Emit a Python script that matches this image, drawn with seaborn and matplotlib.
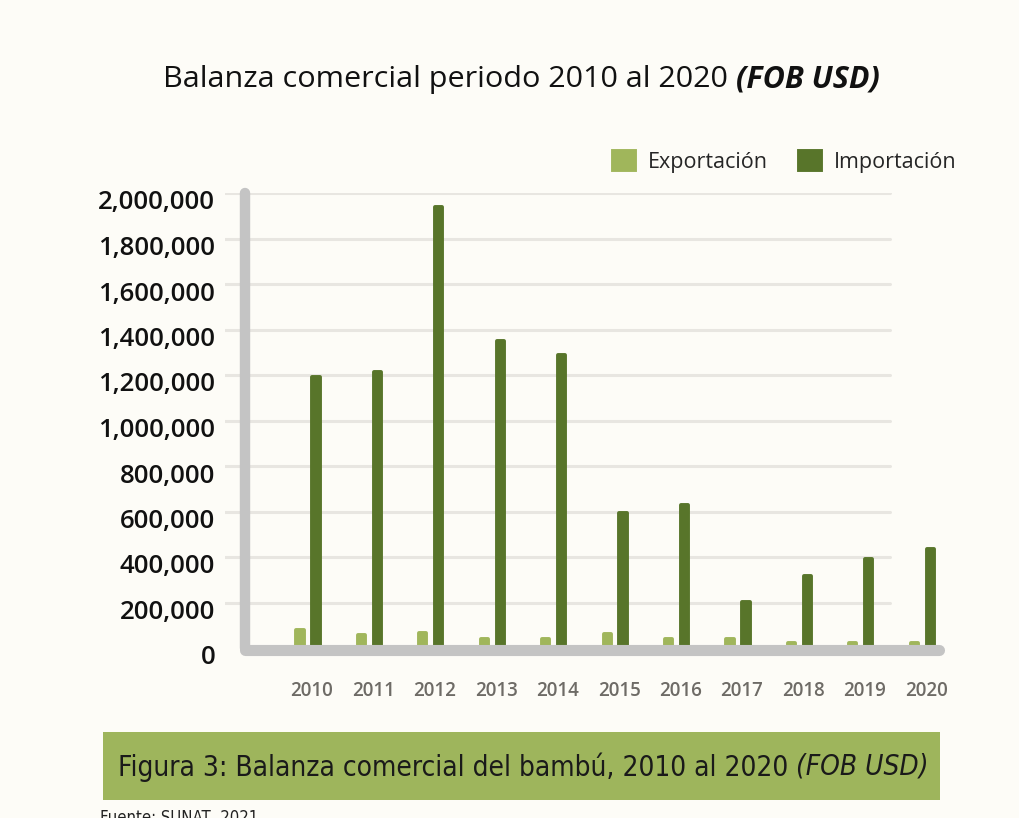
import pandas as pd
import numpy as np
import matplotlib.pyplot as plt
import matplotlib.transforms as mtransforms
from matplotlib.ticker import FuncFormatter
import seaborn as sns

# Datos (FOB USD)
anios = ['2010', '2011', '2012', '2013', '2014', '2015', '2016', '2017', '2018', '2019', '2020']
exportacion = [80000, 57000, 66000, 40000, 40000, 62000, 40000, 40000, 22000, 22000, 22000]
importacion = [1190000, 1213000, 1940000, 1350000, 1290000, 593000, 628000, 202000, 316000, 391000, 435000]
series = ['Exportación', 'Importación']
y_ticks = np.arange(0, 2000001, 200000)

# Colores
FONDO = '#FDFCF7'
VERDE_CLARO = '#A0B65B'
VERDE_OSCURO = '#58752A'
GRIS_EJE = '#C4C4C4'
GRIS_GRID = '#E8E6E1'

sns.set_theme(style='white')
plt.rcParams['font.family'] = ['Open Sans', 'DejaVu Sans']

df = pd.DataFrame({
    'anio': anios * 2,
    'tipo': [series[0]] * len(anios) + [series[1]] * len(anios),
    'valor': exportacion + importacion,
})

W, H = 1019, 818
fig = plt.figure(figsize=(W / 100, H / 100), dpi=100, facecolor=FONDO)
ax = fig.add_axes([225 / W, (H - 648) / H, 720 / W, (648 - 193) / H])
ax.set_facecolor(FONDO)

sns.barplot(data=df, x='anio', y='valor', hue='tipo', hue_order=series,
            palette=[VERDE_CLARO, VERDE_OSCURO], width=0.52, gap=0.55,
            saturation=1, ax=ax)

# Topes redondeados
for p in ax.patches:
    p.set_edgecolor(p.get_facecolor())
    p.set_linewidth(2.8)
    p.set_joinstyle('round')
    p.set_zorder(3)

ax.set_xlim(-1.35, 10.37)
ax.set_ylim(0, 2000000)

# Líneas de cuadrícula
for v in y_ticks[1:]:
    ax.axhline(v, xmin=0, xmax=0.924, color=GRIS_GRID, lw=2.2, zorder=1)

# Ejes gruesos grises
ax.plot([-1.025, -1.025], [0, 2000000], color=GRIS_EJE, lw=7.5,
        solid_capstyle='round', zorder=4, clip_on=False)
ax.plot([-1.025, 10.28], [-8000, -8000], color=GRIS_EJE, lw=8,
        solid_capstyle='round', zorder=5, clip_on=False)

for s in ax.spines.values():
    s.set_visible(False)

ax.set_yticks(y_ticks)
ax.yaxis.set_major_formatter(FuncFormatter(lambda v, _: f'{int(v):,}'))
ax.tick_params(axis='y', length=0, pad=7, labelsize=18.5, labelcolor='#111111')
desplaza_y = mtransforms.ScaledTranslation(0, -7 / 100, fig.dpi_scale_trans)
for lab in ax.get_yticklabels():
    lab.set_fontweight('semibold')
    lab.set_transform(lab.get_transform() + desplaza_y)

ax.tick_params(axis='x', length=0, pad=24, labelsize=13.5, labelcolor='#6E6B66')
offset = mtransforms.ScaledTranslation(4 / 100, 0, fig.dpi_scale_trans)
for lab in ax.get_xticklabels():
    lab.set_fontweight('semibold')
    lab.set_transform(lab.get_transform() + offset)

ax.set_xlabel('')
ax.set_ylabel('')

# Leyenda
handles, labels = ax.get_legend_handles_labels()
ax.legend(handles, labels, loc='center left',
          bbox_to_anchor=(613 / W, 1 - 162 / H), bbox_transform=fig.transFigure,
          ncol=2, frameon=False, fontsize=15.5, handlelength=1.0, handleheight=1.0,
          handletextpad=0.62, columnspacing=1.45, borderpad=0, borderaxespad=0)
for t in ax.get_legend().get_texts():
    t.set_fontweight('medium')


def texto_partido(x0, x1, y, parte1, parte2, size, estilo2, **kw):
    """Dibuja dos trozos de texto seguidos y ajusta el tamaño al ancho x0-x1."""
    r = fig.canvas.get_renderer()
    a = fig.text(x0 / W, 1 - y / H, parte1, fontsize=size, va='center', ha='left', **kw)
    b = fig.text(0, 1 - y / H, parte2, fontsize=size, va='center', ha='left', **estilo2, **kw)
    for _ in range(3):
        fig.canvas.draw()
        wa = a.get_window_extent(r).width
        wb = b.get_window_extent(r).width
        size = size * (x1 - x0) / (wa + wb)
        a.set_fontsize(size)
        b.set_fontsize(size)
    fig.canvas.draw()
    b.set_x(a.get_window_extent(r).x1 / W)
    return a, b


# Título
texto_partido(163, 880, 80, 'Balanza comercial periodo 2010 al 2020 ', '(FOB USD)', 20,
              dict(fontweight='bold', fontstyle='italic'), color='#111111')

# Recuadro de la figura
fig.patches.append(plt.Rectangle((103 / W, 1 - 800 / H), (940 - 103) / W, 68 / H,
                                 transform=fig.transFigure, facecolor='#9EB55C',
                                 edgecolor='none', zorder=0))
narrow = ['DejaVu Sans Condensed', 'DejaVu Sans']
texto_partido(118, 925, 767, 'Figura 3: Balanza comercial del bambú, 2010 al 2020 ', '(FOB USD)', 20,
              dict(fontstyle='italic'), family=narrow, color='#1A1A1A', fontstretch='condensed')

fig.text(100 / W, 1 - 809 / H, 'Fuente: SUNAT, 2021', fontsize=12, family=narrow,
         fontstretch='condensed', color='#222222', va='top', ha='left')

fig.savefig('out.png', dpi=100, facecolor=FONDO)
